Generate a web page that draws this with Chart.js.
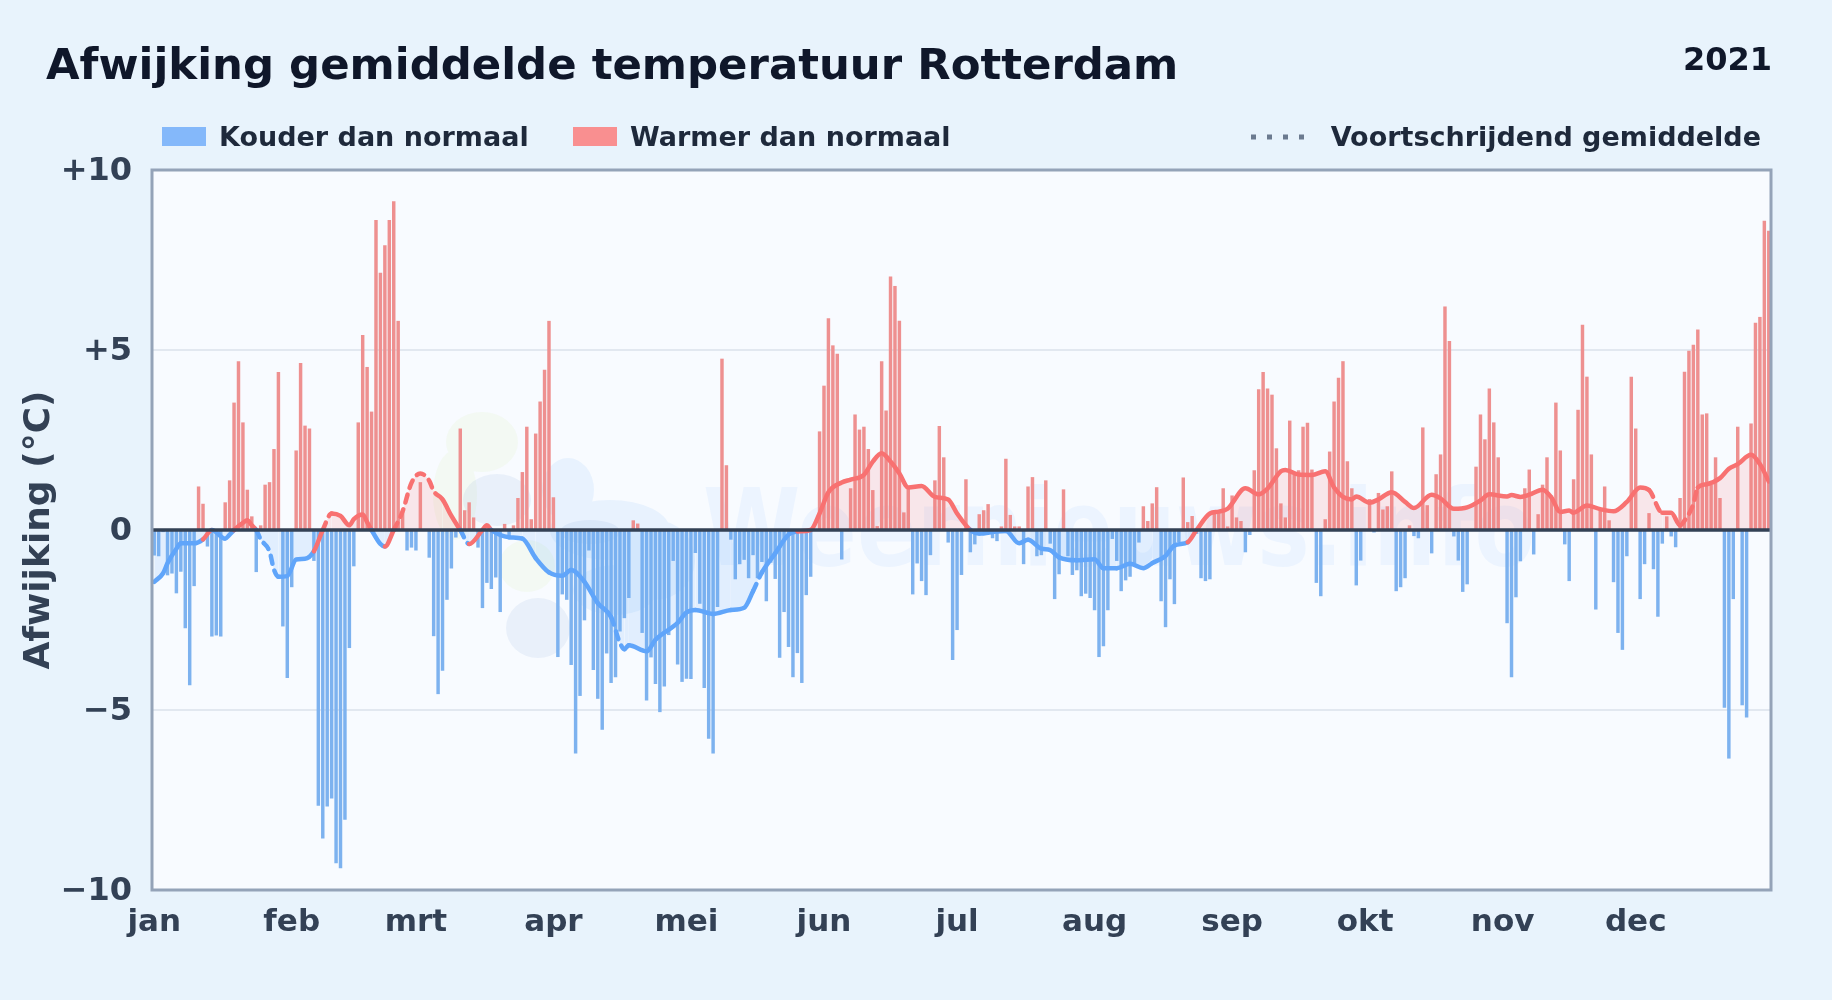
<!DOCTYPE html>
<html>
<head>
<meta charset="utf-8">
<title>Afwijking gemiddelde temperatuur Rotterdam</title>
<script src="https://cdn.jsdelivr.net/npm/chart.js@4"></script>
<style>
  html, body { margin: 0; padding: 0; width: 1832px; height: 1000px; overflow: hidden; background: #e8f3fc; font-family: "DejaVu Sans", sans-serif; font-weight: bold; }
  #chart { position: absolute; left: 0; top: 0; }
  .txt { position: absolute; white-space: nowrap; line-height: 1; }
  #title { left: 46px; top: 43px; font-size: 43.4px; color: #0f172a; }
  #year { right: 60px; top: 43px; font-size: 32px; color: #0f172a; }
  .leg { top: 123px; font-size: 27px; color: #1e293b; }
  .swatch { position: absolute; top: 127px; width: 44px; height: 19px; }
</style>
</head>
<body>
<canvas id="chart" width="1832" height="1000"></canvas>
<div class="txt" id="title">Afwijking gemiddelde temperatuur Rotterdam</div>
<div class="txt" id="year">2021</div>
<div class="swatch" style="left:162px;background:#84b8fa"></div>
<div class="txt leg" style="left:219px">Kouder dan normaal</div>
<div class="swatch" style="left:573px;background:#f98f90"></div>
<div class="txt leg" style="left:630px">Warmer dan normaal</div>
<svg style="position:absolute;left:1250px;top:130px" width="60" height="14"><line x1="1" y1="7" x2="58" y2="7" stroke="#6b7a8f" stroke-width="5" stroke-dasharray="5 11"/></svg>
<div class="txt leg" style="right:71px">Voortschrijdend gemiddelde</div>
<script>
// colors
const blue = "#60a5fa";
const red = "#f87171";
const border = "#94a3b8";
const ink = "#334155";

const monthNames = ["jan", "feb", "mrt", "apr", "mei", "jun", "jul", "aug", "sep", "okt", "nov", "dec"];
const monthStarts = [0, 31, 59, 90, 120, 151, 181, 212, 243, 273, 304, 334];
const yTicks = { 10: "+10", 5: "+5", 0: "0", "-5": "\u22125", "-10": "\u221210" };

// daily deviation
const janValues = [-0.7, -0.72, -0.05, -1.25, -1.2, -1.75, -1.15, -2.72, -4.3, -1.55, 1.2, 0.72, -0.45, -2.95, -2.92, -2.95, 0.76, 1.37, 3.53, 4.68, 2.98, 1.11, 0.37, -1.16, 0.12, 1.25, 1.32, 2.24, 4.38, -2.67, -4.1];
const febValues = [-1.58, 2.2, 4.63, 2.89, 2.81, -0.85, -7.65, -8.56, -7.67, -7.45, -9.25, -9.39, -8.04, -3.27, -1.0, 2.98, 5.41, 4.52, 3.28, 8.6, 7.14, 7.9, 8.6, 9.12, 5.8, 0.5, -0.56, -0.48];
const marValues = [-0.56, 1.32, 0, -0.76, -2.94, -4.55, -3.9, -1.93, -1.06, -0.2, 2.81, 0.54, 0.76, 0.34, -0.48, -2.16, -1.46, -1.63, -1.31, -2.27, 0.16, -0.16, 0.12, 0.88, 1.6, 2.86, 0.29, 2.67, 3.56, 4.44, 5.8];
const aprValues = [0.9, -3.52, -1.78, -1.93, -3.74, -6.2, -4.6, -2.5, -0.56, -3.88, -4.68, -5.54, -3.42, -4.24, -4.08, -2.81, -2.44, -1.88, 0.26, 0.17, -2.85, -4.73, -3.53, -4.27, -5.05, -4.34, -2.91, -0.85, -3.73, -4.21];
const mayValues = [-4.12, -4.13, -0.63, -2.04, -4.38, -5.79, -6.2, -2.13, 4.75, 1.79, -0.26, -1.36, -0.94, -0.82, -1.33, -0.69, -1.33, -0.88, -1.97, -0.9, -1.35, -3.54, -2.27, -3.24, -4.08, -3.41, -4.24, -1.8, -1.29, 0, 2.73];
const junValues = [4.0, 5.87, 5.12, 4.89, -0.81, 0, 1.15, 3.2, 2.78, 2.86, 2.24, 1.1, 0.1, 4.68, 3.31, 7.03, 6.77, 5.8, 0.48, 1.15, -1.78, -0.92, -1.41, -1.8, -0.69, 1.37, 2.88, 2.01, -0.34, -3.6];
const julValues = [-2.77, -1.24, 1.4, -0.61, -0.39, 0.43, 0.54, 0.71, -0.22, -0.3, 0.09, 1.97, 0.41, 0.09, 0.09, -0.94, 1.2, 1.46, -0.72, -0.69, 1.37, -0.37, -1.91, -1.22, 1.12, -0.72, -1.24, -1.11, -1.83, -1.76, -1.88];
const augValues = [-2.22, -3.52, -3.22, -2.22, -0.24, -0.85, -1.69, -1.39, -1.29, -0.92, -0.34, 0.65, 0.24, 0.73, 1.18, -1.97, -2.69, -1.36, -2.05, -0.33, 1.45, 0.21, 0.38, -0.1, -1.33, -1.41, -1.36, 0.46, 0.46, 1.15, 0.09];
const sepValues = [0.95, 0.34, 0.24, -0.61, -0.13, 1.65, 3.9, 4.38, 3.92, 3.75, 2.26, 0.73, 0.34, 3.03, 1.53, 1.65, 2.86, 2.97, 1.67, -1.46, -1.83, 0.29, 2.17, 3.56, 4.22, 4.68, 1.9, 1.15, -1.53, -0.84];
const octValues = [0, 0.85, -0.06, 1.02, 0.56, 0.65, 1.62, -1.69, -1.58, -1.33, 0.12, -0.16, -0.22, 2.84, 0.68, -0.64, 1.54, 2.09, 6.2, 5.24, -0.17, -0.84, -1.71, -1.5, 0, 1.75, 3.2, 2.51, 3.92, 2.98, 2.01];
const novValues = [0, -2.58, -4.08, -1.86, -0.86, 1.15, 1.67, -0.67, 0.43, 1.25, 2.01, 0.95, 3.53, 2.2, -0.39, -1.41, 1.4, 3.33, 5.69, 4.25, 2.09, -2.2, 0.54, 1.2, 0.26, -1.44, -2.85, -3.32, -0.72, 4.25];
const decValues = [2.81, -1.91, -0.94, 0.46, -1.08, -2.4, -0.37, 0.37, -0.17, -0.47, 0.88, 4.39, 4.97, 5.14, 5.56, 3.2, 3.23, 1.24, 2.01, 0.88, -4.93, -6.34, -1.91, 2.86, -4.86, -5.2, 2.95, 5.75, 5.91, 8.58, 8.3];
const dayValues = [].concat(janValues, febValues, marValues, aprValues, mayValues, junValues, julValues, augValues, sepValues, octValues, novValues, decValues);

// running mean at these days
const avgDays = [0, 2, 3, 5, 6, 9, 11, 13, 16, 17, 18, 20, 21, 22, 23, 24, 26, 27, 28, 30, 32, 34, 36, 38, 40, 42, 44, 45, 47, 48, 49, 51, 52, 54, 56, 58, 60, 62, 63, 65, 67, 69, 71, 74, 75, 76, 80, 83, 86, 89, 92, 94, 97, 100, 103, 105, 106, 107, 111, 113, 118, 120, 122, 126, 130, 133, 135, 137, 140, 143, 145, 148, 150, 152, 155, 157, 160, 162, 164, 166, 168, 170, 173, 176, 179, 181, 184, 186, 190, 192, 195, 197, 200, 202, 204, 208, 212, 214, 217, 220, 223, 225, 228, 230, 233, 235, 238, 240, 242, 246, 249, 251, 254, 255, 258, 261, 264, 266, 268, 270, 271, 274, 276, 279, 282, 284, 288, 290, 293, 296, 299, 301, 305, 306, 308, 310, 313, 315, 317, 319, 320, 323, 326, 329, 332, 335, 337, 340, 342, 344, 345, 347, 348, 350, 353, 355, 357, 360, 362, 364];
const avgValues = [-1.44, -1.2, -0.92, -0.52, -0.37, -0.37, -0.26, 0, -0.24, -0.13, 0, 0.2, 0.27, 0.13, 0, -0.26, -0.6, -1.1, -1.3, -1.28, -0.82, -0.8, -0.59, 0, 0.46, 0.39, 0.13, 0.3, 0.43, 0.22, 0, -0.39, -0.46, 0, 0.52, 1.31, 1.57, 1.37, 1.08, 0.85, 0.39, 0, -0.39, 0, 0.13, 0, -0.2, -0.24, -0.78, -1.18, -1.27, -1.11, -1.44, -2.03, -2.42, -3.14, -3.31, -3.2, -3.37, -3.05, -2.58, -2.29, -2.22, -2.33, -2.22, -2.16, -1.7, -1.18, -0.65, -0.13, -0.04, 0, 0.46, 1.05, 1.32, 1.4, 1.53, 1.9, 2.13, 1.9, 1.57, 1.18, 1.22, 0.92, 0.85, 0.46, 0, -0.1, -0.04, -0.03, -0.37, -0.27, -0.52, -0.56, -0.76, -0.84, -0.81, -1.06, -1.06, -0.94, -1.06, -0.92, -0.72, -0.43, -0.34, 0, 0.46, 0.51, 0.59, 1.16, 0.99, 1.15, 1.63, 1.67, 1.54, 1.53, 1.63, 1.18, 0.92, 0.85, 0.93, 0.76, 0.85, 1.05, 0.78, 0.61, 0.98, 0.88, 0.59, 0.63, 0.82, 0.99, 0.93, 0.97, 0.92, 0.98, 1.12, 0.9, 0.5, 0.54, 0.48, 0.68, 0.58, 0.52, 0.78, 1.18, 1.11, 0.48, 0.48, 0.13, 0.26, 0.72, 1.18, 1.27, 1.44, 1.7, 1.83, 2.09, 1.83, 1.35];
// stretches where the line is drawn dashed
const dashedFrom = [23, 38, 54, 69, 104, 136, 337, 344];
const dashedTo = [28, 40, 66, 71, 106, 138, 340, 348];

const avgByDay = dayValues.map(() => null);
avgDays.forEach((d, i) => { avgByDay[d] = avgValues[i]; });

const isDashed = (day) => dashedFrom.some((from, i) => day >= from && day < dashedTo[i]);

function blobs(ctx, color, list) {
  ctx.fillStyle = color;
  ctx.beginPath();
  list.forEach(([x, y, rx, ry]) => {
    ctx.moveTo(x + rx, y);
    ctx.ellipse(x, y, rx, ry, 0, 0, Math.PI * 2);
  });
  ctx.fill();
}

const plotDecor = {
  id: "plotDecor",
  beforeDraw(chart) {
    const { ctx, chartArea: a } = chart;
    ctx.save();
    ctx.fillStyle = "#f8fbff";
    ctx.fillRect(a.left, a.top, a.width, a.height);
    // faint watermark
    ctx.beginPath();
    ctx.rect(a.left, a.top, a.width, a.height);
    ctx.clip();
    blobs(ctx, "rgba(232, 244, 214, 0.3)", [[482, 442, 36, 30], [455, 495, 22, 45], [527, 566, 28, 26]]);
    blobs(ctx, "rgba(96, 165, 250, 0.1)", [[568, 490, 26, 32], [610, 530, 60, 30], [655, 560, 40, 40], [615, 590, 42, 25]]);
    blobs(ctx, "rgba(70, 120, 190, 0.08)", [[497, 500, 34, 26], [538, 628, 32, 30], [590, 532, 30, 12]]);
    ctx.font = "bold 107px 'DejaVu Sans'";
    ctx.fillStyle = "rgba(96, 165, 250, 0.08)";
    ctx.fillText("Weernieuws.info", 703, 565, 832);
    ctx.restore();
  },
  afterDatasetsDraw(chart) {
    const { ctx, chartArea: a, scales } = chart;
    const zero = scales.y.getPixelForValue(0);
    ctx.save();
    ctx.strokeStyle = "#334155";
    ctx.lineWidth = 3.5;
    ctx.beginPath();
    ctx.moveTo(a.left, zero);
    ctx.lineTo(a.right, zero);
    ctx.stroke();
    ctx.strokeStyle = border;
    ctx.lineWidth = 3;
    ctx.strokeRect(a.left, a.top, a.width, a.height);
    ctx.restore();
  },
};

new Chart(document.getElementById("chart"), {
  data: {
    labels: dayValues.map((v, i) => String(i)),
    datasets: [
      {
        type: "line",
        label: "Voortschrijdend gemiddelde",
        data: avgByDay,
        order: 1,
        spanGaps: true,
        borderWidth: 4.5,
        borderColor: red,
        borderCapStyle: "round",
        borderJoinStyle: "round",
        cubicInterpolationMode: "monotone",
        pointRadius: 0,
        fill: {
          target: "origin",
          above: "rgba(248, 113, 113, 0.15)",
          below: "rgba(96, 165, 250, 0.15)",
        },
        segment: {
          borderColor: (ctx) => (ctx.p0.parsed.y + ctx.p1.parsed.y < 0 ? blue : red),
          borderDash: (ctx) => (isDashed(ctx.p0DataIndex) ? [8, 7] : undefined),
        },
      },
      {
        type: "bar",
        label: "Afwijking",
        data: dayValues,
        order: 2,
        barThickness: 2.8,
        backgroundColor: (ctx) => (ctx.raw < 0 ? "#7db2ef" : "#ee9090"),
      },
    ],
  },
  options: {
    responsive: false,
    animation: false,
    devicePixelRatio: 1,
    layout: { padding: { top: 170, right: 61, bottom: 0, left: 0 } },
    plugins: { legend: { display: false }, tooltip: { enabled: false } },
    scales: {
      x: {
        type: "category",
        offset: true,
        afterFit: (s) => { s.height = 110; },
        grid: { display: false },
        border: { display: false },
        ticks: {
          autoSkip: false,
          maxRotation: 0,
          padding: 6,
          color: ink,
          font: { family: "DejaVu Sans", weight: "bold", size: 31 },
          callback: (val, i) => {
            const m = monthStarts.indexOf(i);
            return m < 0 ? null : monthNames[m];
          },
        },
      },
      y: {
        min: -10,
        max: 10,
        afterFit: (s) => { s.width = 152; },
        border: { display: false },
        grid: { color: "#e2e8f0", lineWidth: 2, drawTicks: false },
        title: {
          display: true,
          text: "Afwijking (\u00b0C)",
          color: ink,
          font: { family: "DejaVu Sans", weight: "bold", size: 36 },
          padding: { top: 18, bottom: 0 },
        },
        ticks: {
          stepSize: 5,
          padding: 20,
          labelOffset: 2,
          color: ink,
          font: { family: "DejaVu Sans", weight: "bold", size: 32 },
          callback: (v) => yTicks[v],
        },
      },
    },
  },
  plugins: [plotDecor],
});
</script>
</body>
</html>
